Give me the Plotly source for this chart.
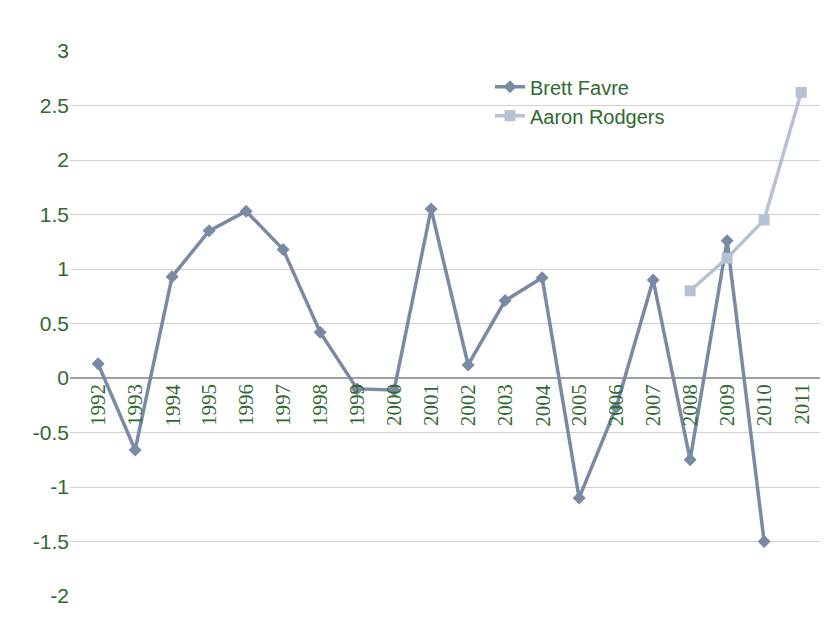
import plotly.graph_objects as go

years = list(range(1992, 2012))
favre_years = list(range(1992, 2011))
favre = [0.13, -0.66, 0.93, 1.35, 1.53, 1.18, 0.42, -0.10, -0.11, 1.55, 0.12, 0.71, 0.92, -1.10, -0.27, 0.90, -0.75, 1.26, -1.50]
rodgers_years = [2008, 2009, 2010, 2011]
rodgers = [0.80, 1.10, 1.45, 2.62]
yticks = [3, 2.5, 2, 1.5, 1, 0.5, 0, -0.5, -1, -1.5, -2]

green = "#2F6A2F"
fig = go.Figure()
fig.add_trace(go.Scatter(x=favre_years, y=favre, name="Brett Favre", mode="lines+markers",
                         line=dict(color="#7A8AA5", width=3.5),
                         marker=dict(symbol="diamond", size=10, color="#7A8AA5")))
fig.add_trace(go.Scatter(x=rodgers_years, y=rodgers, name="Aaron Rodgers", mode="lines+markers",
                         line=dict(color="#B5C1D4", width=3.5),
                         marker=dict(symbol="square", size=11, color="#B5C1D4")))
for yr in years:
    fig.add_annotation(x=yr, y=0, text=str(yr), textangle=-90, showarrow=False,
                       yanchor="top", xanchor="center", yshift=-4,
                       font=dict(size=21, color=green, family="Liberation Sans Narrow"))
fig.update_layout(
    width=840, height=630, paper_bgcolor="white", plot_bgcolor="white",
    margin=dict(l=62, r=28, t=43, b=42),
    font=dict(family="Liberation Sans", color=green, size=21),
    legend=dict(x=0.56, y=0.97, xanchor="left", yanchor="top", bgcolor="rgba(0,0,0,0)",
                font=dict(size=20, color=green)),
    showlegend=True,
)
fig.update_xaxes(range=[1991.24, 2011.51], showticklabels=False, showgrid=False, zeroline=False)
fig.update_yaxes(range=[-2, 3], tickvals=yticks, ticktext=[f"{v:g}" for v in yticks],
                 showgrid=True, gridcolor="#D0D0D0", gridwidth=1, zeroline=True,
                 zerolinecolor="#A0A0A0", zerolinewidth=1.5, ticks="", ticklen=0)
fig.write_html("out.html")
